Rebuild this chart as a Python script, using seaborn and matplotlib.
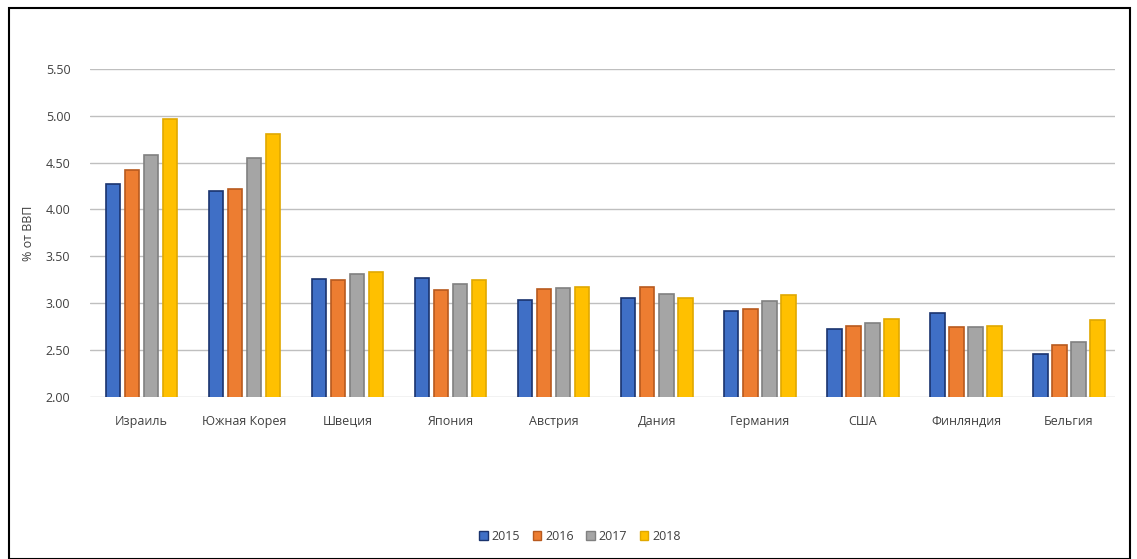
import pandas as pd
import matplotlib
matplotlib.use("Agg")
import matplotlib.pyplot as plt
import seaborn as sns
from matplotlib.patches import Rectangle

# --- data ---
countries = ['Израиль', 'Южная Корея', 'Швеция', 'Япония', 'Австрия',
             'Дания', 'Германия', 'США', 'Финляндия', 'Бельгия']
years = ['2015', '2016', '2017', '2018']
v2015 = [4.27, 4.20, 3.26, 3.27, 3.03, 3.06, 2.92, 2.72, 2.89, 2.46]
v2016 = [4.42, 4.22, 3.25, 3.14, 3.15, 3.17, 2.94, 2.76, 2.75, 2.55]
v2017 = [4.58, 4.55, 3.31, 3.20, 3.16, 3.10, 3.02, 2.79, 2.75, 2.59]
v2018 = [4.96, 4.80, 3.33, 3.25, 3.17, 3.06, 3.09, 2.83, 2.76, 2.82]
yticks = [2.00, 2.50, 3.00, 3.50, 4.00, 4.50, 5.00, 5.50]

colors = ['#3F6FC6', '#ED7D31', '#A5A5A5', '#FFC000']
edges = ['#1A336E', '#B85A1E', '#808080', '#E0A800']

df = pd.DataFrame({'country': countries * 4,
                   'year': sum([[y] * len(countries) for y in years], []),
                   'value': v2015 + v2016 + v2017 + v2018})

sns.set_style('white')
plt.rcParams['font.family'] = ['Open Sans', 'DejaVu Sans']

fig = plt.figure(figsize=(11.37, 5.59), dpi=100)
ax = fig.add_axes([0.079, 0.29, 0.902, 0.587])

sns.barplot(data=df, x='country', y='value', hue='year', palette=colors,
            saturation=1, width=0.74, gap=0.24, ax=ax, legend=False, zorder=3)

# darker outline per series
for cont, ec in zip(ax.containers, edges):
    for bar in cont:
        bar.set_edgecolor(ec)
        bar.set_linewidth(1.2)

ax.tick_params(axis='x', length=0, pad=13)
ax.tick_params(axis='y', length=0, pad=14)
ax.set_ylim(2.0, 5.5)
ax.set_yticks(yticks)
ax.set_yticklabels([f'{t:.2f}' for t in yticks], fontsize=9, color='#404040')
ax.set_xticks(range(len(countries)))
ax.set_xticklabels(countries, fontsize=9, color='#404040')
ax.grid(axis='y', color='#BFBFBF', linewidth=1, zorder=0)
ax.set_axisbelow(True)
for s in ax.spines.values():
    s.set_visible(False)
ax.set_xlabel('')
ax.set_ylabel('% от ВВП', fontsize=9, color='#404040', labelpad=8)
ax.set_xlim(-0.5, 9.45)

handles = [Rectangle((0, 0), 1, 1, facecolor=c, edgecolor=e) for c, e in zip(colors, edges)]
fig.legend(handles, years, loc='center', bbox_to_anchor=(0.51, 0.04), ncol=4,
           frameon=False, fontsize=9, handlelength=0.7, handleheight=0.7,
           handletextpad=0.3, columnspacing=1.0, labelcolor='#404040')

fig.patches.append(Rectangle((0.008, 0.0), 0.986, 0.985, transform=fig.transFigure,
                             fill=False, edgecolor='black', linewidth=1.5))

fig.savefig('out.png', dpi=100)
